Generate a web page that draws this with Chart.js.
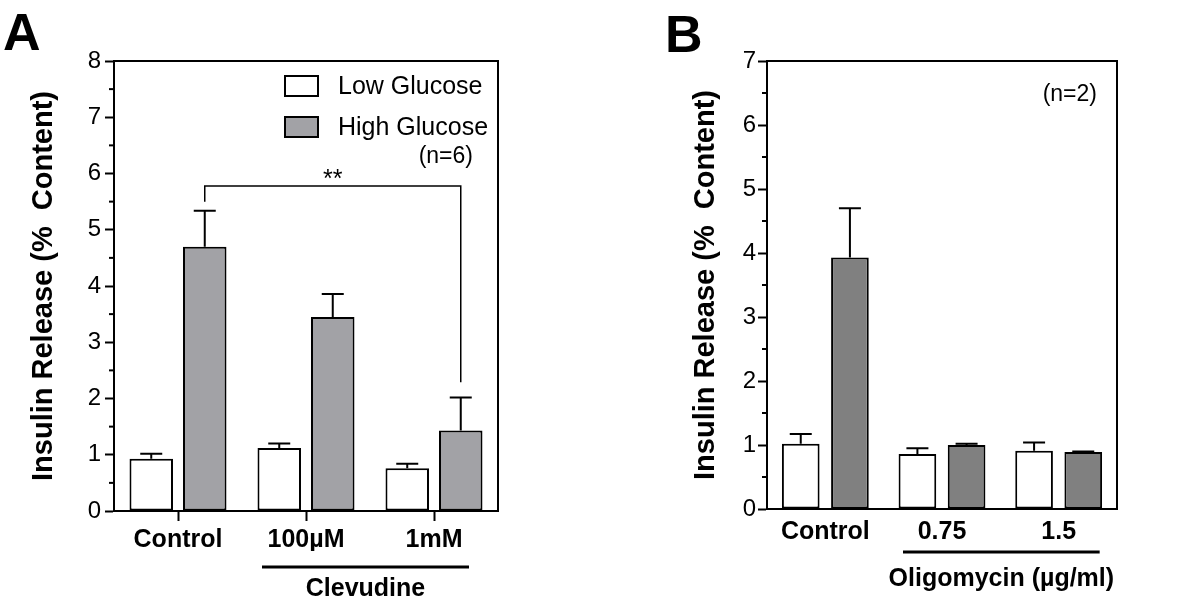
<!DOCTYPE html>
<html>
<head>
<meta charset="utf-8">
<script src="https://cdn.jsdelivr.net/npm/chart.js@4.4.0/dist/chart.umd.min.js"></script>
<style>
html,body{margin:0;padding:0;background:#fff;}
#wrap{position:relative;width:1200px;height:604px;overflow:hidden;}
.panel{position:absolute;top:0;width:600px;height:604px;}
#pa{left:0;}
#pb{left:600px;}
</style>
</head>
<body>
<div id="wrap">
  <div class="panel" id="pa"><canvas id="chartA"></canvas></div>
  <div class="panel" id="pb"><canvas id="chartB"></canvas></div>
</div>
<script>
// ---- Panel A : Clevudine ----
const catsA = ['Control', '100\u00b5M', '1mM'];
const lowA = [0.93, 1.12, 0.76];
const lowErrA = [0.09, 0.08, 0.08];
const highA = [4.70, 3.45, 1.43];
const highErrA = [0.64, 0.41, 0.59];
const yMaxA = 8;
// [from cat, to cat, bracket level, left drop, right drop]
const sigA = [0, 2, 5.78, 5.5, 2.29];

// ---- Panel B : Oligomycin ----
const catsB = ['Control', '0.75', '1.5'];
const lowB = [1.02, 0.86, 0.91];
const lowErrB = [0.15, 0.09, 0.13];
const highB = [3.93, 1.00, 0.89];
const highErrB = [0.77, 0.02, 0.01];
const yMaxB = 7;

const FONT = 'Arial, "Liberation Sans", sans-serif';

// error bars, minor ticks, frame, legend, labels
const decor = {
  id: 'decor',
  afterDatasetsDraw(chart, args, o) {
    const ctx = chart.ctx, y = chart.scales.y, x = chart.scales.x, ca = chart.chartArea;
    ctx.save();
    ctx.strokeStyle = '#000';
    ctx.fillStyle = '#000';

    // frame (top + right)
    ctx.lineWidth = 2;
    ctx.strokeRect(ca.left, ca.top, ca.right - ca.left, ca.bottom - ca.top);

    // minor y ticks
    y.ticks.forEach(t => {
      if (t.value % 1) {
        const py = y.getPixelForValue(t.value);
        ctx.beginPath(); ctx.moveTo(ca.left - 5, py); ctx.lineTo(ca.left, py); ctx.stroke();
      }
    });

    // error bars (upper only)
    ctx.lineWidth = 2;
    chart.data.datasets.forEach((ds, i) => {
      chart.getDatasetMeta(i).data.forEach((bar, j) => {
        const top = y.getPixelForValue(ds.data[j] + ds.errors[j]);
        ctx.beginPath();
        ctx.moveTo(bar.x, bar.y); ctx.lineTo(bar.x, top);
        ctx.moveTo(bar.x - 11, top); ctx.lineTo(bar.x + 11, top);
        ctx.stroke();
      });
    });

    // significance bracket
    if (o.sig) {
      const [a, b, lvl, dl, dr] = o.sig;
      const xa = chart.getDatasetMeta(1).data[a].x, xb = chart.getDatasetMeta(1).data[b].x;
      const yl = y.getPixelForValue(lvl);
      ctx.lineWidth = 1.5;
      ctx.beginPath();
      ctx.moveTo(xa, y.getPixelForValue(dl)); ctx.lineTo(xa, yl);
      ctx.lineTo(xb, yl); ctx.lineTo(xb, y.getPixelForValue(dr));
      ctx.stroke();
      ctx.font = '25px ' + FONT;
      ctx.textAlign = 'center'; ctx.textBaseline = 'alphabetic';
      ctx.fillText('**', (xa + xb) / 2, yl + 1);
    }

    // legend inside plot
    if (o.legend) {
      ctx.lineWidth = 2;
      ctx.font = '25px ' + FONT;
      ctx.textAlign = 'left'; ctx.textBaseline = 'middle';
      const tops = [76, 117];
      chart.data.datasets.forEach((ds, i) => {
        const bx = ca.right - 213, by = tops[i];
        ctx.fillStyle = ds.backgroundColor;
        ctx.fillRect(bx, by, 33, 20);
        ctx.strokeRect(bx, by, 33, 20);
        ctx.fillStyle = '#000';
        ctx.fillText(ds.label, ca.right - 160, by + 11);
      });
    }

    // n note
    if (o.note) {
      ctx.font = '23px ' + FONT;
      ctx.textAlign = 'right'; ctx.textBaseline = 'middle';
      ctx.fillText(o.note[0], ca.right - o.note[1], o.note[2]);
    }

    // group underline + label
    if (o.group) {
      const g = o.group;
      const l = x.getPixelForValue(1) - g.padL, r = x.getPixelForValue(2) + g.padR;
      ctx.lineWidth = 3;
      ctx.beginPath(); ctx.moveTo(l, g.lineY); ctx.lineTo(r, g.lineY); ctx.stroke();
      ctx.font = 'bold 25px ' + FONT;
      ctx.textAlign = 'center'; ctx.textBaseline = 'alphabetic';
      ctx.fillText(g.text, (l + r) / 2, g.textY);
    }

    // panel letter
    ctx.font = 'bold 52px ' + FONT;
    ctx.textAlign = 'left'; ctx.textBaseline = 'alphabetic';
    ctx.fillText(o.letter[0], o.letter[1], o.letter[2]);
    ctx.restore();
  }
};

function makeChart(id, cats, low, lowErr, high, highErr, yMax, highColor, cfg) {
  return new Chart(document.getElementById(id), {
    type: 'bar',
    data: {
      labels: cats,
      datasets: [
        {label: 'Low Glucose', data: low, errors: lowErr, backgroundColor: '#ffffff', borderColor: '#000', borderWidth: 2, borderSkipped: false,
         categoryPercentage: cfg.catPct, barPercentage: cfg.barPct},
        {label: 'High Glucose', data: high, errors: highErr, backgroundColor: highColor, borderColor: '#000', borderWidth: 2, borderSkipped: false,
         categoryPercentage: cfg.catPct, barPercentage: cfg.barPct}
      ]
    },
    options: {
      responsive: true, maintainAspectRatio: false, animation: false, devicePixelRatio: 1,
      layout: {padding: cfg.pad},
      plugins: {legend: {display: false}, tooltip: {enabled: false}, decor: cfg.decor},
      scales: {
        x: {
          grid: {drawOnChartArea: false, offset: false, drawTicks: cfg.xTicks, tickLength: 10, tickWidth: 2, tickColor: '#000'},
          border: {display: true, color: '#000', width: 2},
          ticks: {color: '#000', font: {family: FONT, size: 25, weight: 'bold'}, padding: cfg.xPad, maxRotation: 0, autoSkip: false},
          afterFit: s => { s.height = 40; }
        },
        y: {
          min: 0, max: yMax,
          grid: {drawOnChartArea: false, tickLength: 9, tickWidth: 2,
                 tickColor: c => (c.tick && c.tick.value % 1) ? 'rgba(0,0,0,0)' : '#000'},
          border: {display: true, color: '#000', width: 2},
          ticks: {stepSize: 0.5, autoSkip: false, color: '#000', padding: cfg.yPad,
                  font: {family: FONT, size: 24}, callback: v => (v % 1 ? '' : v)},
          title: {display: true, text: 'Insulin Release (%  Content)', color: '#000',
                  font: {family: FONT, size: 29, weight: 'bold'}, padding: {top: cfg.titlePad, bottom: 0}},
          afterFit: s => { s.width = cfg.yWidth; }
        }
      }
    },
    plugins: [decor]
  });
}

makeChart('chartA', catsA, lowA, lowErrA, highA, highErrA, yMaxA, '#a2a2a6', {
  catPct: 0.836, barPct: 0.813,
  pad: {left: 0, top: 61, right: 102, bottom: 53},
  xTicks: true, xPad: 4, yPad: 4, yWidth: 114, titlePad: 27,
  decor: {
    letter: ['A', 3, 50], legend: true, note: ['(n=6)', 25, 157], sig: sigA,
    group: {text: 'Clevudine', padL: 44, padR: 35, lineY: 567, textY: 596}
  }
});

makeChart('chartB', catsB, lowB, lowErrB, highB, highErrB, yMaxB, '#808080', {
  catPct: 0.843, barPct: 0.766,
  pad: {left: 0, top: 61, right: 83, bottom: 55},
  xTicks: false, xPad: 8, yPad: 2, yWidth: 167, titlePad: 89,
  decor: {
    letter: ['B', 65, 52], legend: false, note: ['(n=2)', 20, 95],
    group: {text: 'Oligomycin (\u00b5g/ml)', padL: 39, padR: 41, lineY: 552, textY: 586}
  }
});
</script>
</body>
</html>
